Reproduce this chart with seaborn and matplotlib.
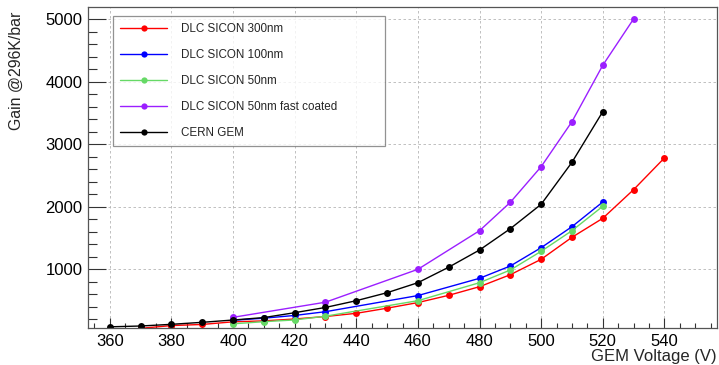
import numpy as np
import pandas as pd
import matplotlib
matplotlib.use("Agg")
import matplotlib.pyplot as plt
from matplotlib.ticker import MultipleLocator
import seaborn as sns

# ---- data ----
labels = ["DLC SICON 300nm", "DLC SICON 100nm", "DLC SICON 50nm",
          "DLC SICON 50nm fast coated", "CERN GEM"]

v_300 = [370, 380, 390, 400, 410, 420, 430, 440, 450, 460, 470, 480, 490, 500, 510, 520, 530, 540]
g_300 = [56, 100, 118, 160, 175, 205, 245, 296, 378, 468, 584, 722, 914, 1160, 1512, 1816, 2274, 2781]

v_100 = [400, 410, 420, 430, 460, 480, 490, 500, 510, 520]
g_100 = [185, 218, 262, 322, 580, 856, 1053, 1346, 1682, 2077]

v_50 = [400, 410, 420, 430, 460, 480, 490, 500, 510, 520]
g_50 = [128, 162, 190, 250, 498, 786, 989, 1288, 1618, 2008]

v_fast = [400, 430, 460, 480, 490, 500, 510, 520, 530]
g_fast = [232, 474, 1000, 1618, 2072, 2642, 3362, 4264, 5005]

v_cern = [360, 370, 380, 390, 400, 410, 420, 430, 440, 450, 460, 470, 480, 490, 500, 510, 520]
g_cern = [80, 93, 120, 152, 189, 228, 306, 390, 498, 626, 786, 1034, 1309, 1650, 2040, 2712, 3522]

colors = ["#ff0000", "#0000ff", "#66d966", "#9b1fff", "#000000"]

frames = []
for lab, v, g in zip(labels, [v_300, v_100, v_50, v_fast, v_cern],
                     [g_300, g_100, g_50, g_fast, g_cern]):
    frames.append(pd.DataFrame({"V": v, "gain": g, "series": lab}))
df = pd.concat(frames, ignore_index=True)

sns.set_theme(style="white")
plt.rcParams["font.family"] = ["Liberation Sans", "DejaVu Sans"]

fig = plt.figure(figsize=(7.19, 3.65), dpi=100)
ax = fig.add_axes([0.1228, 0.1005, 0.9977 - 0.1228, 0.98 - 0.1005])

sns.lineplot(data=df, x="V", y="gain", hue="series", hue_order=labels,
             palette=dict(zip(labels, colors)), marker="o", markersize=5,
             markeredgewidth=0, linewidth=1.0, ax=ax, legend=True)

ax.set_xlim(353, 557.2)
ax.set_ylim(56, 5192)

ax.xaxis.set_major_locator(MultipleLocator(20))
ax.xaxis.set_minor_locator(MultipleLocator(5))
ax.yaxis.set_major_locator(MultipleLocator(1000))
ax.yaxis.set_minor_locator(MultipleLocator(200))

ax.grid(True, which="major", color="#b5b5b5", linestyle=(0, (3, 3)), linewidth=0.6)
ax.set_axisbelow(True)

ax.tick_params(axis="x", which="major", direction="in", length=7, width=0.8,
               labelsize=12, pad=4, colors="#333333", labelcolor="black",
               bottom=True, top=False)
ax.tick_params(axis="x", which="minor", direction="in", length=3.5, width=0.8,
               colors="#333333", bottom=True, top=False)
ax.tick_params(axis="y", which="major", direction="in", length=13, width=0.8,
               labelsize=12, pad=4, colors="#333333", labelcolor="black",
               left=True, right=False)
ax.tick_params(axis="y", which="minor", direction="in", length=6.5, width=0.8,
               colors="#333333", left=True, right=False)

for s in ax.spines.values():
    s.set_color("#555555")
    s.set_linewidth(0.9)

ax.set_xlabel("")
ax.set_ylabel("")
fig.text(0.9965, 3.5 / 365, "GEM Voltage (V)", ha="right", va="baseline", fontsize=12)
fig.text(0.012, 1 - 12 / 365, "Gain @296K/bar", ha="left", va="top", rotation=90,
         fontsize=11.4)

handles, labs = ax.get_legend_handles_labels()
x0, x1 = 113 / 719, 385 / 719
ytop = 1 - 16 / 365
leg = ax.legend(handles, labs, loc="upper left", mode="expand",
                bbox_to_anchor=(x0, ytop - 0.4, x1 - x0, 0.4), bbox_transform=fig.transFigure,
                borderaxespad=0, frameon=True, fancybox=False, shadow=False,
                fontsize=8.4, labelspacing=1.2, handlelength=4.0, handletextpad=1.25,
                borderpad=0.62, numpoints=1)
leg.get_frame().set_edgecolor("#777777")
leg.get_frame().set_linewidth(0.9)
for h in leg.legend_handles:
    h.set_markersize(4.5)

fig.savefig("out.png", dpi=100)
